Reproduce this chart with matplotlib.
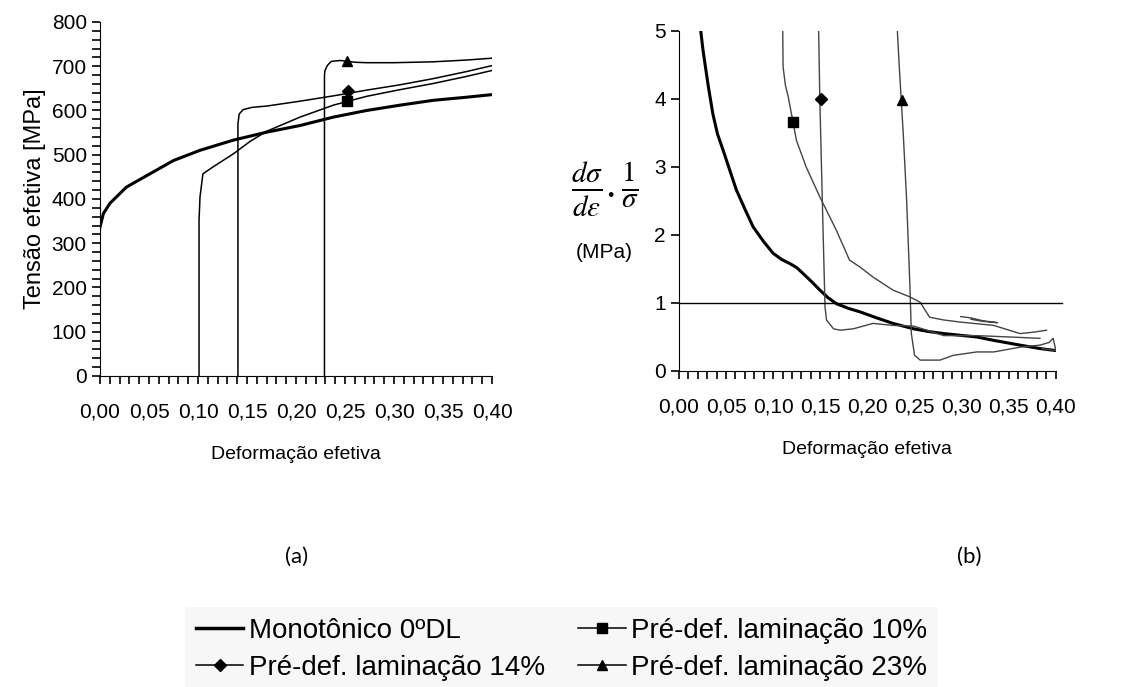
import matplotlib
matplotlib.use('Agg')
import matplotlib.pyplot as plt
from matplotlib.ticker import MultipleLocator, FuncFormatter
from matplotlib.lines import Line2D

plt.rcParams['font.family'] = ['Liberation Sans', 'DejaVu Sans']
plt.rcParams['mathtext.fontset'] = 'stix'

# (a) effective stress vs effective strain
eps_mono = [0, 0.0034, 0.01, 0.027, 0.051, 0.075, 0.102, 0.136, 0.170, 0.204, 0.238, 0.272, 0.306, 0.340, 0.374, 0.405]
sig_mono = [337, 367, 390, 427, 457, 487, 510, 533, 551, 566, 585, 600, 612, 623, 630, 637]

eps_10 = [0.101, 0.101, 0.102, 0.105, 0.115, 0.136, 0.153, 0.170, 0.204, 0.238, 0.272, 0.306, 0.340, 0.374, 0.405]
sig_10 = [0, 352, 405, 457, 472, 502, 530, 553, 585, 612, 632, 647, 661, 677, 693]

eps_14 = [0.1407, 0.1407, 0.142, 0.146, 0.155, 0.170, 0.204, 0.238, 0.272, 0.306, 0.340, 0.374, 0.405]
sig_14 = [0, 570, 592, 602, 607, 610, 621, 633, 646, 658, 672, 688, 704]

eps_23 = [0.229, 0.229, 0.2295, 0.232, 0.236, 0.245, 0.26, 0.272, 0.30, 0.34, 0.374, 0.405]
sig_23 = [0, 680, 690, 702, 711, 713, 709, 708, 708, 710, 714, 719]

mark_eps_a = [0.2515, 0.253, 0.2525]
mark_sig_a = [622, 645, 711]

# (b) (dsigma/deps)/sigma vs effective strain
eps_mono_b = [0.0215, 0.0255, 0.031, 0.036, 0.041, 0.0468, 0.054, 0.061, 0.07, 0.0787, 0.09, 0.10, 0.109, 0.1176, 0.125, 0.132,
              0.141, 0.1495, 0.158, 0.167, 0.18, 0.192, 0.21, 0.227, 0.249, 0.265, 0.281, 0.316, 0.334, 0.362, 0.383, 0.40]
val_mono_b = [5.2, 4.72, 4.2, 3.78, 3.48, 3.25, 2.95, 2.66, 2.38, 2.12, 1.9, 1.73, 1.64, 1.58, 1.52, 1.43,
              1.31, 1.19, 1.08, 0.99, 0.92, 0.87, 0.78, 0.70, 0.62, 0.58, 0.55, 0.50, 0.45, 0.38, 0.33, 0.30]

eps_10_b = [0.110, 0.1105, 0.113, 0.116, 0.1247, 0.135, 0.1495, 0.167, 0.181, 0.192, 0.206, 0.227, 0.245, 0.256, 0.266, 0.281, 0.298, 0.334, 0.362, 0.376, 0.39]
val_10_b = [5.2, 4.47, 4.2, 4.03, 3.39, 3.0, 2.56, 2.07, 1.63, 1.53, 1.38, 1.19, 1.09, 1.01, 0.79, 0.75, 0.72, 0.67, 0.55, 0.57, 0.60]
eps_10_b_extra = [0.299, 0.31, 0.322, 0.338, 0.322, 0.31]
val_10_b_extra = [0.80, 0.78, 0.74, 0.71, 0.73, 0.76]

eps_14_b = [0.148, 0.1495, 0.153, 0.155, 0.1566, 0.164, 0.171, 0.185, 0.206, 0.227, 0.249, 0.263, 0.281, 0.316, 0.351, 0.383]
val_14_b = [5.2, 3.98, 2.02, 0.94, 0.75, 0.62, 0.60, 0.62, 0.70, 0.67, 0.66, 0.60, 0.52, 0.52, 0.50, 0.48]

eps_23_b = [0.231, 0.2338, 0.238, 0.2416, 0.245, 0.2466, 0.250, 0.256, 0.277, 0.291, 0.316, 0.334, 0.362, 0.383, 0.393, 0.397, 0.40, 0.385]
val_23_b = [5.2, 4.47, 3.49, 2.51, 1.28, 0.55, 0.23, 0.16, 0.16, 0.23, 0.28, 0.28, 0.35, 0.38, 0.42, 0.48, 0.30, 0.33]

mark_eps_b = [0.121, 0.151, 0.237]
mark_val_b = [3.66, 4.0, 3.98]

markers = ['s', 'D', '^']
labels = ['Monotônico 0ºDL', 'Pré-def. laminação 10%', 'Pré-def. laminação 14%', 'Pré-def. laminação 23%']

comma = FuncFormatter(lambda v, p: ('%.2f' % v).replace('.', ','))


def style_axes(ax):
    ax.spines['top'].set_visible(False)
    ax.spines['right'].set_visible(False)
    ax.set_xlim(0, 0.40)
    ax.xaxis.set_major_locator(MultipleLocator(0.05))
    ax.xaxis.set_minor_locator(MultipleLocator(0.01))
    ax.xaxis.set_major_formatter(comma)
    ax.tick_params(axis='both', which='both', direction='out', length=6, width=1.2, labelsize=15)
    ax.tick_params(axis='x', pad=13)
    ax.set_xlabel('Deformação efetiva', fontsize=14, labelpad=18)


fig = plt.figure(figsize=(11.28, 6.87), dpi=100)

# ---- (a)
ax1 = fig.add_axes([0.0887, 0.4527, 0.3475, 0.5153])
ax1.plot(eps_mono, sig_mono, color='black', lw=2.2)
ax1.plot(eps_10, sig_10, color='black', lw=1.1)
ax1.plot(eps_14, sig_14, color='black', lw=1.1)
ax1.plot(eps_23, sig_23, color='black', lw=1.1)
for m, x, y in zip(markers, mark_eps_a, mark_sig_a):
    ax1.plot(x, y, marker=m, color='black', ms=7 if m != 'D' else 6)
style_axes(ax1)
ax1.set_ylim(0, 800)
ax1.yaxis.set_major_locator(MultipleLocator(100))
ax1.yaxis.set_minor_locator(MultipleLocator(20))
ax1.set_ylabel('Tensão efetiva [MPa]', fontsize=17, labelpad=4)

# ---- (b)
ax2 = fig.add_axes([0.6019, 0.46, 0.3342, 0.4949])
ax2.plot(eps_mono_b, val_mono_b, color='black', lw=2.2)
ax2.plot(eps_10_b, val_10_b, color='#444444', lw=1.0)
ax2.plot(eps_10_b_extra, val_10_b_extra, color='#444444', lw=1.0)
ax2.plot(eps_14_b, val_14_b, color='#444444', lw=1.0)
ax2.plot(eps_23_b, val_23_b, color='#444444', lw=1.0)
for m, x, y in zip(markers, mark_eps_b, mark_val_b):
    ax2.plot(x, y, marker=m, color='black', ms=7 if m != 'D' else 6)
ax2.plot([0, 0.4065], [1, 1], color='black', lw=1.0, clip_on=False)
style_axes(ax2)
ax2.set_ylim(0, 5)
ax2.yaxis.set_major_locator(MultipleLocator(1))
ax2.yaxis.set_minor_locator(MultipleLocator(1))
ax2.tick_params(axis='y', which='minor', length=0)

fig.text(0.536, 0.724, r'$\frac{d\sigma}{d\varepsilon}.\frac{1}{\sigma}$', fontsize=30, ha='center', va='center')
fig.text(0.5355, 0.632, '(MPa)', fontsize=15, ha='center', va='center')

fig.text(0.2633, 0.189, '(a)', fontsize=16, ha='center', va='center', family=['Lato', 'DejaVu Sans'])
fig.text(0.859, 0.189, '(b)', fontsize=16, ha='center', va='center', family=['Lato', 'DejaVu Sans'])

# ---- legend
handles = [
    Line2D([], [], color='black', lw=2.5),
    Line2D([], [], color='black', lw=1.1, marker='D', ms=6),
    Line2D([], [], color='black', lw=1.1, marker='s', ms=7),
    Line2D([], [], color='black', lw=1.1, marker='^', ms=7),
]
leg_labels = [labels[0], labels[2], labels[1], labels[3]]
leg = fig.legend(handles, leg_labels, loc='center', bbox_to_anchor=(0.498, 0.055), ncol=2,
                 fontsize=20, handlelength=1.7, handletextpad=0.2, columnspacing=1.2,
                 labelspacing=0.4, fancybox=False, frameon=True, borderpad=0.4)
leg.get_frame().set_facecolor('#f6f6f6')
leg.get_frame().set_edgecolor('none')

fig.savefig('out.png', dpi=100)
